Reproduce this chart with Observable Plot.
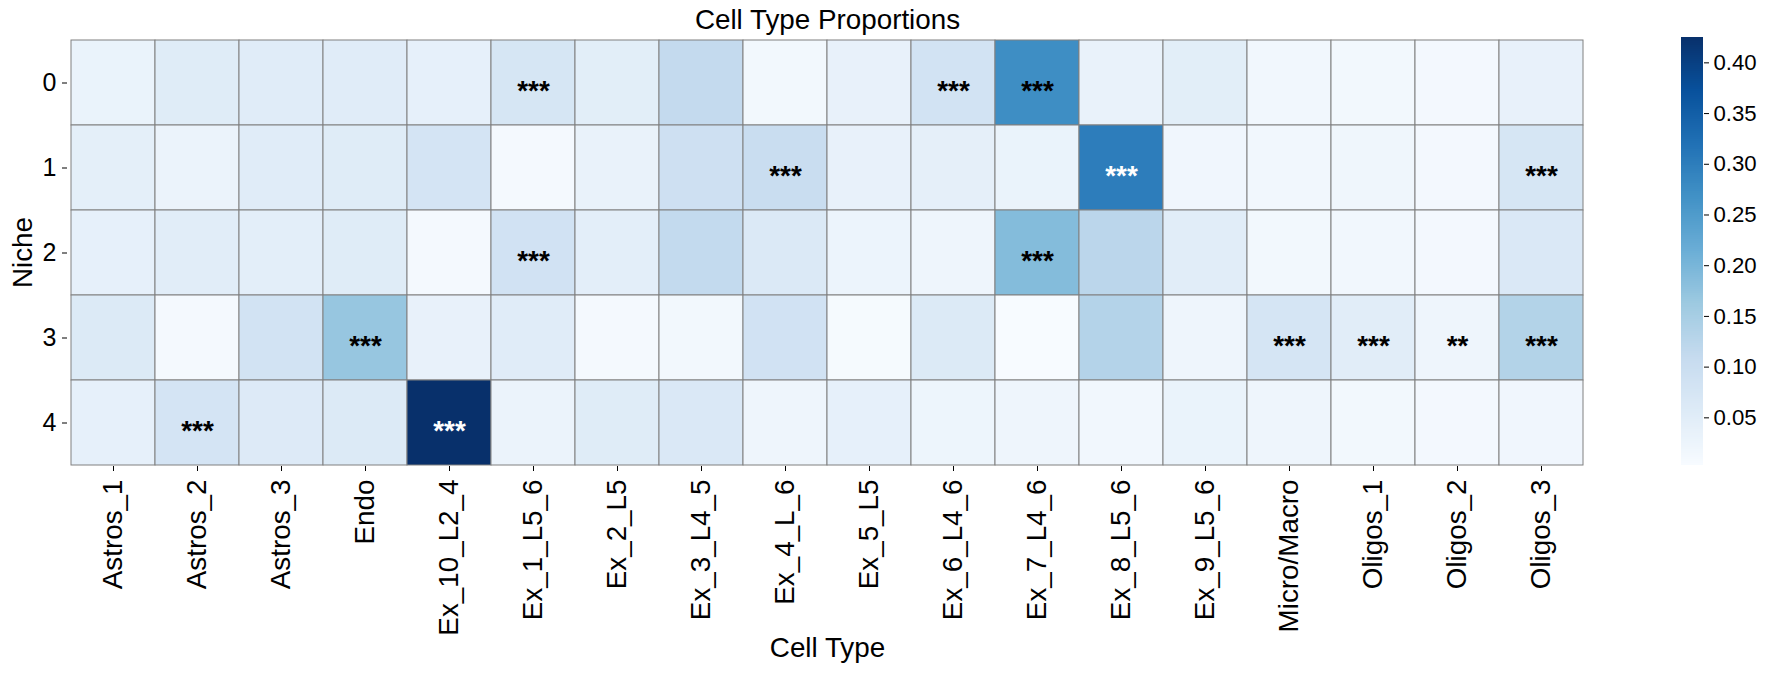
<!DOCTYPE html>
<html>
<head>
<meta charset="utf-8">
<script src="https://cdn.jsdelivr.net/npm/d3@7"></script>
<script src="https://cdn.jsdelivr.net/npm/@observablehq/plot@0.6"></script>
<style>
  body { margin: 0; background: #fff; }
  #wrap { position: relative; width: 1765px; height: 674px; font-family: "Liberation Sans", Arial, sans-serif; }
  #wrap svg { position: absolute; top: 0; overflow: visible; max-width: none; }
</style>
</head>
<body>
<div id="wrap"></div>
<script>
// ---- data ----
const cellTypes = ["Astros_1","Astros_2","Astros_3","Endo","Ex_10_L2_4","Ex_1_L5_6","Ex_2_L5","Ex_3_L4_5","Ex_4_L_6","Ex_5_L5","Ex_6_L4_6","Ex_7_L4_6","Ex_8_L5_6","Ex_9_L5_6","Micro/Macro","Oligos_1","Oligos_2","Oligos_3"];
const niches = ["0","1","2","3","4"];

const niche0 = [0.030,0.054,0.052,0.052,0.039,0.073,0.047,0.111,0.014,0.035,0.083,0.273,0.033,0.047,0.016,0.014,0.012,0.035];
const niche1 = [0.043,0.028,0.052,0.054,0.078,0.009,0.033,0.092,0.102,0.035,0.041,0.030,0.300,0.018,0.016,0.020,0.012,0.073];
const niche2 = [0.039,0.050,0.045,0.054,0.009,0.085,0.045,0.113,0.062,0.026,0.022,0.188,0.123,0.050,0.014,0.016,0.012,0.064];
const niche3 = [0.060,0.009,0.083,0.168,0.035,0.052,0.010,0.014,0.085,0.007,0.060,0.003,0.132,0.022,0.075,0.050,0.022,0.134];
const niche4 = [0.039,0.078,0.058,0.060,0.425,0.028,0.054,0.064,0.022,0.039,0.024,0.022,0.016,0.030,0.022,0.014,0.012,0.018];

const sig0 = ["","","","","","***","","","","","***","***","","","","","",""];
const sig1 = ["","","","","","","","","***","","","","***","","","","","***"];
const sig2 = ["","","","","","***","","","","","","***","","","","","",""];
const sig3 = ["","","","***","","","","","","","","","","","***","***","**","***"];
const sig4 = ["","***","","","***","","","","","","","","","","","","",""];

const colorbarTicks = [0.05,0.10,0.15,0.20,0.25,0.30,0.35,0.40];
const bluesStops = ["#f7fbff","#deebf7","#c6dbef","#9ecae1","#6baed6","#4292c6","#2171b5","#08519c","#08306b"];

// ---- table ----
const values = [niche0, niche1, niche2, niche3, niche4];
const sigs = [sig0, sig1, sig2, sig3, sig4];
const table = niches.flatMap((n, i) => cellTypes.map((c, j) => ({niche: n, cell: c, v: values[i][j], sig: sigs[i][j]})));
const [cmin, cmax] = d3.extent(table, d => d.v);
const colorScale = {
  type: "linear",
  domain: bluesStops.map((_, i) => cmin + i / (bluesStops.length - 1) * (cmax - cmin)),
  range: bluesStops,
  interpolate: "rgb",
  clamp: true
};
const font = "'Liberation Sans', Arial, sans-serif";
const labeled = table.filter(d => d.sig);

const main = Plot.plot({
  width: 1765, height: 674,
  marginTop: 38, marginBottom: 208, marginLeft: 67, marginRight: 178,
  style: {fontFamily: font, background: "transparent", color: "black", maxWidth: "none"},
  x: {type: "band", domain: cellTypes, padding: 0, label: null},
  y: {type: "band", domain: niches, padding: 0, label: null},
  color: colorScale,
  marks: [
    Plot.cell(table, {x: "cell", y: "niche", fill: "v", stroke: "#808080", strokeWidth: 1}),
    Plot.text(labeled.filter(d => d.v <= 0.28), {x: "cell", y: "niche", text: "sig", fill: "black", fontSize: 27.8, fontWeight: "bold", dy: 8}),
    Plot.text(labeled.filter(d => d.v > 0.28), {x: "cell", y: "niche", text: "sig", fill: "white", fontSize: 27.8, fontWeight: "bold", dy: 8}),
    Plot.axisX({tickRotate: -90, fontSize: 27.8, tickSize: 5, tickPadding: 8, label: null}),
    Plot.axisY({fontSize: 25, tickSize: 5, tickPadding: 6, label: null}),
    Plot.text(["Cell Type Proportions"], {frameAnchor: "top", lineAnchor: "middle", textAnchor: "middle", dy: -18, fontSize: 27.8}),
    Plot.text(["Cell Type"], {frameAnchor: "bottom", lineAnchor: "middle", textAnchor: "middle", dy: 182, fontSize: 27.8}),
    Plot.text(["Niche"], {frameAnchor: "left", lineAnchor: "middle", textAnchor: "middle", dx: -44, rotate: -90, fontSize: 27.8})
  ]
});
main.style.left = "0px";

// colorbar (legend gradient)
const nSteps = 214;
const steps = d3.range(nSteps).map(i => ({
  v0: cmin + i / nSteps * (cmax - cmin),
  v1: cmin + (i + 1) / nSteps * (cmax - cmin)
}));
const bar = Plot.plot({
  width: 84, height: 674,
  marginTop: 37, marginBottom: 209, marginLeft: 0, marginRight: 62,
  style: {fontFamily: font, background: "transparent", color: "black", maxWidth: "none"},
  x: {domain: [0, 1], axis: null},
  y: {domain: [cmin, cmax], label: null},
  color: colorScale,
  marks: [
    Plot.rect(steps, {x1: 0, x2: 1, y1: "v0", y2: "v1", fill: d => (d.v0 + d.v1) / 2, shapeRendering: "crispEdges"}),
    Plot.axisY({anchor: "right", ticks: colorbarTicks, tickFormat: d3.format(".2f"), fontSize: 22.2, tickSize: 5, tickPadding: 5, label: null})
  ]
});
bar.style.left = "1681px";

const wrap = document.getElementById("wrap");
wrap.appendChild(main);
wrap.appendChild(bar);
</script>
</body>
</html>
